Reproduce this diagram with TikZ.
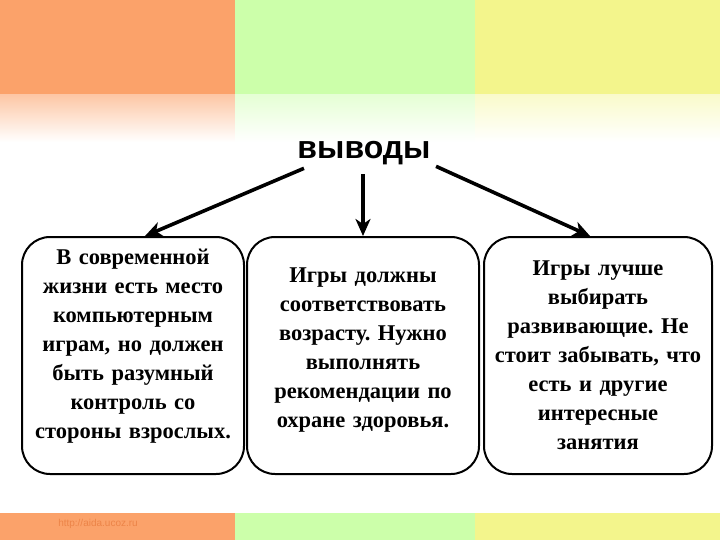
\documentclass[tikz,border=0pt]{standalone}
\usepackage{fontspec}
\setmainfont{Liberation Serif}
\newfontfamily\headfont{Liberation Sans}
\usepackage{xcolor}
\usetikzlibrary{calc}
\usetikzlibrary{arrows.meta,positioning}
\frenchspacing

\definecolor{bandOrange}{RGB}{251,162,106}
\definecolor{bandGreen}{RGB}{204,255,170}
\definecolor{bandYellow}{RGB}{243,245,140}
\definecolor{markOrange}{RGB}{236,132,72}

\tikzset{
	conclusion/.style={draw=black, line width=2pt, rounded corners=28pt, fill=white,
		minimum width=#1, minimum height=237pt, text width=212pt, align=center,
		font=\bfseries\fontsize{22.5}{29}\selectfont},
	pointer/.style={-{Stealth[length=17pt,width=15pt,inset=5pt]}, line width=3.6pt, black},
}

\begin{document}
\begin{tikzpicture}[x=1pt,y=-1pt] % conclusions slide
		\newcommand{\bandTop}{95}
		\newcommand{\fadeEnd}{142}
		\newcommand{\footTop}{513}
		
		\useasboundingbox (0,0) rectangle (720,540);
		\fill[white] (0,0) rectangle (720,540);			% background
		
		% top bands
		\fill[bandOrange] (0,0) rectangle (235,\bandTop);
		\fill[bandGreen] (235,0) rectangle (475,\bandTop);
		\fill[bandYellow] (475,0) rectangle (720,\bandTop);
		\shade[top color=bandOrange!60, bottom color=white] (0,\bandTop) rectangle (235,\fadeEnd);
		\shade[top color=bandGreen!50, bottom color=white] (235,\bandTop) rectangle (475,\fadeEnd);
		\shade[top color=bandYellow!45, bottom color=white] (475,\bandTop) rectangle (720,\fadeEnd);
		
		% bottom bands
		\fill[bandOrange] (0,\footTop) rectangle (235,540);
		\fill[bandGreen] (235,\footTop) rectangle (475,540);
		\fill[bandYellow] (475,\footTop) rectangle (720,540);
		\node[text=markOrange, font=\headfont\fontsize{10}{11}\selectfont] (site) at (98,524) {http://aida.ucoz.ru};
		
		% title
		\node[font=\headfont\bfseries\fontsize{32}{34}\selectfont] (title) at (364,153) {выводы};
		
		% boxes
		\node[conclusion=222pt] (left) at (133,355.5) {В современной\\ жизни есть место\\ компьютерным\\ играм, но должен\\ быть разумный\\ контроль со\\ стороны взрослых.\\[-5pt]\mbox{}};
		\node[conclusion=232pt] (middle) at (363,355.5) {Игры должны\\ соответствовать\\ возрасту. Нужно\\ выполнять\\ рекомендации по\\ охране здоровья.\\[-14pt]\mbox{}};
		\node[conclusion=228pt] (right) at (598,355.5) {Игры лучше\\ выбирать\\ развивающие. Не\\ стоит забывать, что\\ есть и другие\\ интересные\\ занятия};
		
		% arrows
		\draw[pointer] ($(title.south west)+(10,0)$) -- ([xshift=12pt]left.north);
		\draw[pointer] (title.south -| middle.north) ++(0,6) -- (middle.north);
		\draw[pointer] ($(title.south east)+(2,-2)$) -- ([xshift=-8pt]right.north);
\end{tikzpicture}
\end{document}
